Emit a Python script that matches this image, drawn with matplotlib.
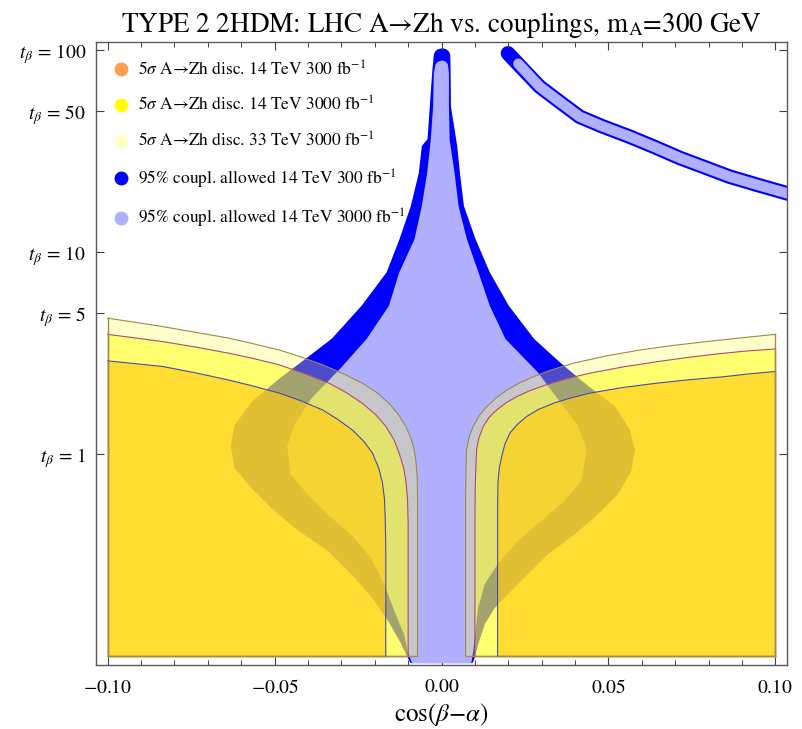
import numpy as np
import matplotlib
matplotlib.use('Agg')
import matplotlib.pyplot as plt
from matplotlib.lines import Line2D

plt.rcParams['font.family'] = ['STIXGeneral', 'DejaVu Serif']
plt.rcParams['mathtext.fontset'] = 'stix'

# discovery contours, left half (x from -0.1 down to the vertical asymptote at tb = 0.1)
disc33_left_x = [-0.100, -0.090, -0.0835, -0.0736, -0.0636, -0.056, -0.0486, -0.042, -0.0356, -0.0295, -0.0237,
                 -0.0195, -0.0157, -0.0128, -0.0107, -0.0092, -0.0082, -0.0076, -0.0073, -0.0072, -0.0072]
disc33_left_t = [4.70, 4.44, 4.27, 4.00, 3.74, 3.50, 3.27, 3.02, 2.76, 2.50, 2.24,
                 2.02, 1.78, 1.56, 1.37, 1.20, 1.05, 0.90, 0.77, 0.60, 0.10]
disc14hl_left_x = [-0.100, -0.090, -0.0835, -0.0736, -0.0636, -0.056, -0.0486, -0.041, -0.0337, -0.0285, -0.0237,
                   -0.0198, -0.0167, -0.0143, -0.0127, -0.0114, -0.0107, -0.0102, -0.0100, -0.0100]
disc14hl_left_t = [3.91, 3.72, 3.60, 3.38, 3.15, 2.96, 2.76, 2.50, 2.24, 2.01, 1.78,
                   1.57, 1.37, 1.18, 1.01, 0.86, 0.74, 0.60, 0.45, 0.10]
disc14_left_x = [-0.100, -0.090, -0.0835, -0.0736, -0.0636, -0.056, -0.0486, -0.042, -0.0356, -0.031, -0.0266,
                 -0.0232, -0.0207, -0.0188, -0.0177, -0.0171, -0.0169, -0.0167, -0.0167]
disc14_left_t = [2.89, 2.78, 2.71, 2.52, 2.32, 2.16, 2.00, 1.83, 1.65, 1.48, 1.31,
                 1.15, 1.01, 0.85, 0.72, 0.60, 0.49, 0.35, 0.10]

# right half (from the bottom up to x = 0.1)
disc33_right_x = [0.0072, 0.0072, 0.0073, 0.0075, 0.0083, 0.0095, 0.0113, 0.0135, 0.0163, 0.0195, 0.0232,
                  0.0274, 0.0330, 0.0394, 0.049, 0.0594, 0.069, 0.0793, 0.090, 0.100]
disc33_right_t = [0.10, 0.60, 0.80, 1.05, 1.22, 1.37, 1.55, 1.71, 1.89, 2.07, 2.24,
                  2.41, 2.61, 2.81, 3.05, 3.27, 3.44, 3.60, 3.76, 3.91]
disc14hl_right_x = [0.0100, 0.0100, 0.0101, 0.0105, 0.0112, 0.0125, 0.0143, 0.0165, 0.0193, 0.0225, 0.0265,
                    0.0314, 0.0375, 0.0444, 0.054, 0.0644, 0.074, 0.0843, 0.092, 0.100]
disc14hl_right_t = [0.10, 0.45, 0.70, 1.05, 1.20, 1.37, 1.52, 1.65, 1.79, 1.92, 2.06,
                    2.20, 2.36, 2.51, 2.69, 2.86, 3.01, 3.15, 3.24, 3.31]
disc14_right_x = [0.0168, 0.0168, 0.0169, 0.0173, 0.0180, 0.0190, 0.0205, 0.0227, 0.0254, 0.029, 0.0334,
                  0.0385, 0.0444, 0.054, 0.0644, 0.074, 0.0843, 0.092, 0.100]
disc14_right_t = [0.10, 0.50, 0.72, 0.85, 0.97, 1.12, 1.27, 1.40, 1.53, 1.66, 1.78,
                  1.89, 2.00, 2.13, 2.24, 2.33, 2.41, 2.49, 2.56]

# 95% coupling fit, 300 fb-1: left edge top->bottom, right edge bottom->top
coup300_left_t = [100, 99, 97, 94.5, 76.7, 52.4, 35.9, 33.2, 24.5, 16.8, 11.5, 7.85, 5.36, 3.67, 2.98, 2.37, 1.78,
                  1.37, 1.09, 0.865, 0.689, 0.548, 0.436, 0.335, 0.247, 0.189, 0.151, 0.1155, 0.0993, 0.094]
coup300_left_x = [0.0003, -0.0009, -0.0015, -0.0018, -0.0023, -0.0030, -0.0037, -0.0054, -0.0063, -0.0087, -0.0121,
                  -0.0160, -0.0235, -0.0325, -0.0396, -0.0476, -0.0566, -0.0616, -0.0626, -0.0616, -0.0566, -0.0506,
                  -0.0436, -0.0336, -0.0256, -0.0196, -0.0156, -0.0116, -0.0097, -0.0090]
coup300_right_t = [0.094, 0.0993, 0.115, 0.145, 0.175, 0.204, 0.247, 0.322, 0.404, 0.508, 0.639, 0.833, 1.05, 1.31,
                   1.71, 2.15, 2.81, 3.67, 5.36, 7.85, 11.5, 16.8, 24.5, 33.2, 52.4, 76.7, 94.5, 97, 99]
coup300_right_x = [0.0090, 0.0095, 0.0105, 0.0125, 0.0155, 0.0194, 0.0244, 0.0314, 0.0394, 0.0464, 0.0524, 0.0564,
                   0.0574, 0.0559, 0.0514, 0.0434, 0.0350, 0.0273, 0.0197, 0.0140, 0.0097, 0.0062, 0.0050, 0.0042,
                   0.0023, 0.0022, 0.0021, 0.0018, 0.0012]

# 95% coupling fit, 3000 fb-1
coup3000_left_t = [87, 86, 84.3, 76.7, 52.4, 35.9, 24.5, 16.8, 11.5, 7.85, 5.36, 3.67, 2.65, 1.85, 1.37, 1.09, 0.80,
                   0.639, 0.508, 0.404, 0.310, 0.229, 0.169, 0.128, 0.107, 0.094]
coup3000_left_x = [0.0002, -0.0008, -0.0013, -0.0018, -0.0020, -0.0027, -0.0038, -0.0054, -0.0076, -0.0122, -0.0153,
                   -0.0220, -0.0296, -0.0387, -0.0437, -0.0457, -0.0447, -0.0397, -0.0337, -0.0267, -0.0207, -0.0167,
                   -0.0137, -0.0107, -0.0097, -0.0085]
coup3000_right_t = [0.094, 0.107, 0.128, 0.175, 0.229, 0.288, 0.375, 0.471, 0.592, 0.744, 1.05, 1.37, 1.85, 2.51,
                    3.67, 5.36, 7.85, 11.5, 16.8, 24.5, 35.9, 52.4, 76.7, 84.3, 86]
coup3000_right_x = [0.0085, 0.0090, 0.0095, 0.0105, 0.0125, 0.0164, 0.0224, 0.0294, 0.0364, 0.0414, 0.0429, 0.0404,
                    0.0344, 0.0284, 0.0187, 0.0140, 0.0106, 0.0071, 0.0046, 0.0034, 0.0019, 0.0017, 0.0017, 0.0014,
                    0.0010]

# wrong-sign branch at large tan(beta)
branch300_x = [0.0199, 0.0245, 0.0294, 0.035, 0.0414, 0.048, 0.0564, 0.064, 0.0714, 0.079, 0.0863, 0.095, 0.106]
branch300_t = [96.3, 80.0, 65.8, 56.0, 46.7, 42.0, 37.2, 33.0, 29.2, 26.2, 23.6, 21.4, 19.0]
branch3000_x = [0.0230, 0.0294, 0.035, 0.0414, 0.048, 0.0564, 0.064, 0.0714, 0.079, 0.0863, 0.095, 0.106]
branch3000_t = [85.5, 65.8, 56.0, 46.7, 42.0, 37.2, 33.0, 29.2, 26.2, 23.6, 21.4, 19.0]

ytick_vals = [1, 5, 10, 50, 100]
xtick_vals = [-0.10, -0.05, 0.0, 0.05, 0.10]

legend_labels = ['5$\\sigma$ A\u2192Zh disc. 14 TeV 300 fb$^{-1}$',
                 '5$\\sigma$ A\u2192Zh disc. 14 TeV 3000 fb$^{-1}$',
                 '5$\\sigma$ A\u2192Zh disc. 33 TeV 3000 fb$^{-1}$',
                 '95% coupl. allowed 14 TeV 300 fb$^{-1}$',
                 '95% coupl. allowed 14 TeV 3000 fb$^{-1}$']
legend_colors = ['#ffa050', '#ffff00', '#ffffc8', '#0000ff', '#b0b0ff']

EDGE = '#a8884e'


def coupling_region(ax, lt, lx, rt, rx, color, z):
	xs = list(lx) + list(rx)
	ts = list(lt) + list(rt)
	ax.fill(xs, ts, facecolor=color, edgecolor=color, lw=2.5, joinstyle='round', zorder=z)


def disc_region(ax, xs, ts, side, fc, alpha, lc):
	# close the region against the x = +-0.1 edge and the tb = 0.1 floor
	xs = list(xs)
	ts = list(ts)
	edge_x = 0.1 if side == 'right' else -0.1
	ax.fill(xs + [edge_x], ts + [0.1], facecolor=fc, alpha=alpha, edgecolor='none', zorder=5)
	ax.plot(xs, ts, color=lc, lw=0.8, zorder=6)
	top = ts[0] if side == 'left' else ts[-1]
	foot = xs[-1] if side == 'left' else xs[0]
	ax.plot([edge_x, edge_x], [0.1, top], color=EDGE, lw=1.0, zorder=6)
	ax.plot([edge_x, foot], [0.1, 0.1], color=EDGE, lw=1.0, zorder=6)


def main():
	fig = plt.figure(figsize=(8.03, 7.29), dpi=100)
	ax = fig.add_axes([0.1196, 0.0878, 0.8605, 0.855])

	coupling_region(ax, coup300_left_t, coup300_left_x, coup300_right_t, coup300_right_x, '#0000ff', 1)
	coupling_region(ax, coup3000_left_t, coup3000_left_x, coup3000_right_t, coup3000_right_x, '#b0b0ff', 2)
	ax.plot(branch300_x, branch300_t, color='#0000ff', lw=10.5, solid_capstyle='round',
	        solid_joinstyle='round', zorder=1)
	ax.plot(branch3000_x, branch3000_t, color='#b0b0ff', lw=7.5, solid_capstyle='round',
	        solid_joinstyle='round', zorder=2)

	# discovery regions stacked with transparency, outermost first
	layers = [
		(disc33_left_x, disc33_left_t, disc33_right_x, disc33_right_t, (1.0, 1.0, 0.333), 0.30, '#9a8a4c'),
		(disc14hl_left_x, disc14hl_left_t, disc14hl_right_x, disc14hl_right_t, (1.0, 1.0, 0.063), 0.49, '#b0487a'),
		(disc14_left_x, disc14_left_t, disc14_right_x, disc14_right_t, (1.0, 0.804, 0.086), 0.68, '#4a4aaa'),
	]
	for lx, lt, rx, rt, fc, a, lc in layers:
		disc_region(ax, lx, lt, 'left', fc, a, lc)
		disc_region(ax, rx, rt, 'right', fc, a, lc)

	ax.set_yscale('log')
	ax.set_xlim(-0.1035, 0.1035)
	ax.set_ylim(0.0902, 109.9)

	ax.set_yticks(ytick_vals)
	ax.set_yticklabels([r'$t_\beta\,=\,%d$' % v for v in ytick_vals])
	ax.yaxis.set_minor_locator(matplotlib.ticker.NullLocator())
	ax.set_xticks(xtick_vals)
	ax.set_xticklabels([r'$%.2f$' % v for v in xtick_vals])
	ax.set_xticks(np.arange(-0.10, 0.1001, 0.01), minor=True)
	ax.tick_params(which='both', direction='in', top=True, right=True, labelsize=14, colors='0.25',
	               labelcolor='black')
	ax.tick_params(which='major', length=6, width=0.8)
	ax.tick_params(which='minor', length=3.5, width=0.7)
	ax.tick_params(axis='x', which='major', pad=10)
	ax.tick_params(axis='y', which='major', pad=7)
	for s in ax.spines.values():
		s.set_color('0.35')
		s.set_linewidth(1.0)

	ax.set_xlabel(r'cos($\beta$$-$$\alpha$)', fontsize=18, labelpad=3)
	ax.set_title('TYPE 2 2HDM: LHC A\u2192Zh vs. couplings, m$_{\\mathrm{A}}$=300 GeV', fontsize=19.5, pad=7)

	handles = [Line2D([], [], ls='', marker='o', markersize=9, markerfacecolor=c, markeredgecolor=c)
	           for c in legend_colors]
	ax.legend(handles, legend_labels, loc='upper left', bbox_to_anchor=(-0.008, 0.998), frameon=False,
	          fontsize=12.5, labelspacing=0.95, handletextpad=0.25, handlelength=1.5, borderaxespad=0.6)

	fig.savefig('out.png', dpi=100)


if __name__ == '__main__':
	main()
